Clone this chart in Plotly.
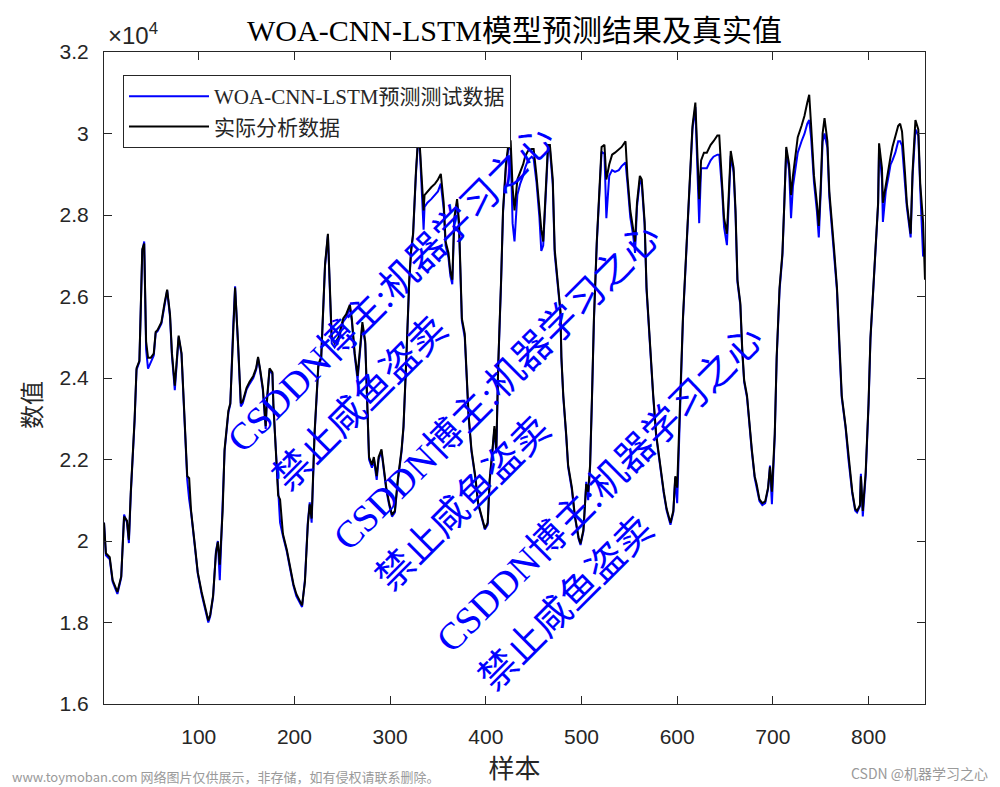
import plotly.graph_objects as go

# ---------------- data ----------------
sample_idx = [
    1, 3, 7, 10, 15, 19, 22, 25, 27, 29,
    33, 35, 38, 41, 43, 45, 47, 50, 53, 55,
    57, 61, 64, 67, 70, 72, 75, 77, 79, 82,
    85, 88, 90, 92, 96, 99, 103, 106, 110, 112,
    115, 118, 120, 122, 125, 127, 131, 133, 136, 138,
    141, 144, 146, 150, 153, 157, 160, 162, 164, 167,
    170, 171, 174, 177, 178, 181, 183, 185, 188, 192,
    195, 199, 202, 205, 208, 211, 214, 216, 218, 221,
    225, 228, 230, 232, 235, 237, 239, 242, 246, 249,
    251, 254, 258, 260, 263, 266, 268, 271, 274, 276,
    278, 281, 283, 286, 288, 291, 294, 296, 299, 302,
    305, 308, 312, 314, 317, 320, 322, 324, 327, 329,
    331, 333, 335, 336, 339, 343, 347, 350, 353, 356,
    358, 361, 363, 365, 367, 370, 372, 375, 378, 380,
    382, 385, 389, 392, 396, 399, 402, 404, 407, 409,
    411, 413, 416, 418, 421, 424, 426, 428, 430, 433,
    436, 439, 441, 444, 448, 450, 453, 456, 458, 460,
    463, 465, 467, 470, 472, 475, 478, 479, 481, 484,
    486, 490, 493, 497, 499, 502, 505, 507, 509, 511,
    513, 516, 519, 521, 524, 526, 529, 532, 535, 539,
    542, 546, 548, 551, 554, 556, 558, 561, 563, 566,
    568, 570, 572, 575, 578, 582, 586, 589, 593, 596,
    598, 600, 603, 606, 610, 613, 616, 619, 621, 623,
    625, 628, 631, 635, 638, 642, 644, 647, 649, 652,
    654, 656, 659, 661, 663, 666, 668, 670, 673, 675,
    678, 681, 683, 686, 689, 692, 695, 697, 699, 702,
    704, 707, 710, 712, 714, 717, 719, 721, 724, 726,
    730, 733, 736, 738, 740, 743, 746, 748, 750, 752,
    754, 757, 759, 762, 764, 767, 770, 772, 776, 779,
    783, 786, 788, 791, 792, 794, 797, 800, 802, 805,
    807, 810, 811, 814, 815, 818, 821, 823, 825, 828,
    831, 833, 835, 838, 840, 844, 846, 849, 852, 854,
    857, 859,
]

actual_vals = [
    20450, 19700, 19600, 19040, 18750, 19130, 20600, 20500, 20030, 21200,
    23000, 24240, 24420, 27160, 27300, 24900, 24500, 24500, 24600, 25130,
    25180, 25370, 25800, 26170, 25560, 24610, 23810, 24520, 25040, 24610,
    23100, 21590, 21540, 20740, 19890, 19230, 18750, 18470, 18050, 18190,
    18660, 19700, 19980, 19420, 20740, 22250, 23200, 23380, 25280, 26220,
    24900, 23380, 23430, 23760, 23900, 24050, 24240, 24520, 24240, 23760,
    22820, 23380, 24240, 24140, 23380, 22160, 21120, 21020, 20170, 19790,
    19420, 18940, 18700, 18560, 18420, 19000, 20400, 20900, 20550, 22630,
    24330, 24520, 25650, 26790, 27540, 26220, 24990, 24850, 24990, 25280,
    25460, 25560, 25800, 25460, 24610, 24050, 24520, 25370, 24900, 23570,
    22060, 21870, 22060, 21590, 22060, 22250, 21680, 21310, 20930, 20640,
    20740, 21500, 22250, 22820, 24520, 26410, 27160, 27540, 29060, 29810,
    29720, 28960, 28110, 28490, 28580, 28680, 28770, 28870, 29010, 28300,
    27350, 27070, 26600, 26410, 27920, 28390, 27830, 25460, 25090, 24050,
    23100, 22250, 21590, 20930, 20550, 20310, 20450, 21500, 22250, 22820,
    22250, 24330, 26410, 28110, 29240, 29810, 29810, 28680, 28110, 28870,
    29060, 29240, 29430, 29570, 29620, 29620, 28960, 28110, 27640, 27350,
    28770, 29720, 29720, 28870, 27160, 26410, 25650, 24520, 23570, 22630,
    21870, 21310, 20640, 20080, 19940, 20270, 21400, 21210, 21870, 23570,
    25460, 27350, 28870, 29670, 29720, 28870, 29240, 29480, 29530, 29620,
    29670, 29810, 28960, 28110, 27640, 27350, 28300, 28960, 28870, 27830,
    26220, 25460, 24520, 23570, 22630, 21870, 21210, 20790, 20450, 20740,
    21590, 21310, 23570, 25460, 27350, 28960, 30190, 30760, 29620, 28390,
    29340, 29530, 29530, 29720, 29810, 29950, 29950, 28770, 27920, 27540,
    28490, 29570, 29150, 28110, 26410, 25840, 24710, 23950, 23570, 23000,
    22250, 21590, 21400, 21020, 20930, 20970, 21310, 21820, 21210, 22630,
    24520, 26220, 27070, 28300, 29670, 29240, 28490, 28960, 29620, 29910,
    30190, 30430, 30760, 30950, 30190, 28960, 28300, 27730, 28680, 30000,
    30380, 29810, 28580, 27830, 27160, 26220, 24520, 23570, 22820, 22060,
    21210, 20790, 20740, 20880, 21590, 20740, 21680, 23380, 24990, 26220,
    27070, 28300, 29760, 29150, 28300, 28770, 29240, 29430, 29670, 29910,
    30190, 30240, 30050, 29060, 28300, 27540, 29060, 30330, 30100, 28770,
    27830, 26410,
]

pred_vals = [
    20450, 19650, 19550, 19000, 18700, 19100, 20650, 20450, 19950, 21150,
    22950, 24200, 24400, 27100, 27350, 24700, 24230, 24400, 24550, 25100,
    25150, 25330, 25780, 26150, 25500, 24550, 23700, 24480, 25000, 24580,
    23050, 21500, 21020, 20700, 19850, 19200, 18700, 18430, 18000, 18150,
    18620, 19750, 20000, 19040, 20700, 22200, 23150, 23350, 25250, 26250,
    24850, 23300, 23380, 23720, 23850, 24000, 24200, 24480, 24200, 23700,
    22750, 23330, 24200, 24100, 23300, 22100, 21050, 20450, 20120, 19750,
    19380, 18900, 18650, 18520, 18380, 19050, 20450, 20950, 20450, 22580,
    24280, 24480, 25600, 26750, 27500, 26150, 24850, 24750, 24900, 25200,
    25380, 25480, 25720, 25400, 24550, 23950, 24450, 25300, 24850, 23500,
    22000, 21800, 22000, 21500, 22000, 22200, 21600, 21250, 20880, 20600,
    20700, 21450, 22200, 22780, 24480, 26350, 27100, 27500, 29000, 29750,
    29650, 28800, 27640, 28200, 28300, 28390, 28490, 28580, 28770, 28150,
    27250, 26950, 26500, 26300, 27800, 28300, 27700, 25400, 25000, 24000,
    23050, 22200, 21550, 20900, 20500, 20280, 20400, 21450, 22200, 22750,
    22150, 24280, 26350, 28050, 29150, 29700, 29600, 27800, 27350, 28500,
    28770, 28960, 29150, 29340, 29430, 29380, 28800, 27950, 27120, 27250,
    28650, 29600, 29620, 28750, 27050, 26350, 25600, 24480, 23520, 22580,
    21820, 21250, 20600, 20050, 19900, 20230, 21450, 21000, 21820, 23500,
    25400, 27300, 28800, 29550, 29500, 27920, 28960, 29100, 29060, 29100,
    29200, 29290, 28800, 27950, 27500, 27070, 28200, 28850, 28750, 27750,
    26150, 25400, 24480, 23520, 22580, 21820, 21170, 20750, 20400, 20700,
    21550, 20930, 23500, 25400, 27300, 28900, 30100, 30650, 29400, 27800,
    29150, 29150, 29150, 29340, 29430, 29480, 29480, 28600, 27700, 27260,
    28350, 29450, 29050, 28000, 26350, 25780, 24650, 23900, 23520, 22950,
    22200, 21550, 21350, 20980, 20880, 20930, 21280, 21850, 20900, 22580,
    24480, 26150, 27000, 28250, 29600, 29100, 27920, 28700, 29240, 29530,
    29810, 29990, 30240, 30330, 29900, 28800, 28100, 27450, 28550, 29800,
    30000, 29650, 28450, 27640, 27100, 26150, 24480, 23520, 22780, 22000,
    21170, 20750, 20700, 20850, 21650, 20600, 21600, 23330, 24950, 26150,
    27000, 28250, 29650, 28900, 27830, 28580, 28960, 29240, 29340, 29530,
    29810, 29810, 29700, 28900, 28200, 27450, 28950, 30100, 29950, 28650,
    26980, 27160,
]

series_names = ["WOA-CNN-LSTM预测测试数据", "实际分析数据"]
x_ticks = [100, 200, 300, 400, 500, 600, 700, 800]
y_ticks = [16000, 18000, 20000, 22000, 24000, 26000, 28000, 30000, 32000]
y_tick_text = ["1.6", "1.8", "2", "2.2", "2.4", "2.6", "2.8", "3", "3.2"]

title_text = "WOA-CNN-LSTM模型预测结果及真实值"
x_title = "样本"
y_title = "数值"
wm_line1 = "CSDDN博主:机器学习之心"
wm_line2 = "禁止咸鱼盗卖"
footer_left = "www.toymoban.com 网络图片仅供展示，非存储，如有侵权请联系删除。"
footer_right = "CSDN @机器学习之心"

# ---------------- figure ----------------
# the page body has an 8px margin, so the figure is drawn 8px smaller and
# every reference pixel position is shifted by -8
OFF = 8
W, H = 1000 - OFF, 787 - OFF
ax_left, ax_right, ax_top, ax_bottom = 104, 925, 52, 704   # reference pixels
L = ax_left - OFF
T = ax_top - OFF
R = W - (ax_right - OFF)
B = H - (ax_bottom - OFF)
pw, ph = ax_right - ax_left, ax_bottom - ax_top

def px2paper(x, y):
    return (x - ax_left) / pw, (ax_bottom - y) / ph

SERIF = "'Liberation Serif', 'Times New Roman', 'Noto Sans CJK SC', serif"
SANS = "'Liberation Sans', Arial, 'Noto Sans CJK SC', sans-serif"
CJK = "'Noto Sans CJK SC', sans-serif"
AX = "#262626"

fig = go.Figure()
fig.add_trace(go.Scatter(x=sample_idx, y=pred_vals, mode="lines", name=series_names[0],
                         line=dict(color="#0000ff", width=2)))
fig.add_trace(go.Scatter(x=sample_idx, y=actual_vals, mode="lines", name=series_names[1],
                         line=dict(color="#000000", width=2)))

annotations = []
annotations.append(dict(xref="paper", yref="paper", x=0, y=1, xanchor="left", yanchor="bottom",
                        xshift=2, yshift=1, text="×10<sup>4</sup>", showarrow=False,
                        font=dict(family=SANS, size=24, color=AX)))
wm_centers = [((390, 289), (360, 403)), ((496, 387), (463, 503)), ((599, 489), (566, 603))]
for (c1, c2) in wm_centers:
    for (cx, cy), txt in ((c1, wm_line1), (c2, wm_line2)):
        xp, yp = px2paper(cx, cy)
        annotations.append(dict(xref="paper", yref="paper", x=xp, y=yp, xanchor="center",
                                yanchor="middle", text=txt, showarrow=False, textangle=-45,
                                font=dict(family=SERIF, size=38, color="#0000ff")))
# y-axis title (sits a little below the axis middle in the reference)
xp, yp = px2paper(30, 405)
annotations.append(dict(xref="paper", yref="paper", x=xp, y=yp, xanchor="center", yanchor="middle",
                        text=y_title, showarrow=False, textangle=-90,
                        font=dict(family=CJK, size=24, color=AX)))
xp, yp = px2paper(10, 777)
annotations.append(dict(xref="paper", yref="paper", x=xp, y=yp, xanchor="left", yanchor="middle",
                        text=footer_left, showarrow=False,
                        font=dict(family=CJK, size=13, color="#9a9a9a")))
xp, yp = px2paper(990, 773)
annotations.append(dict(xref="paper", yref="paper", x=xp, y=yp, xanchor="right", yanchor="middle",
                        text=footer_right, showarrow=False,
                        font=dict(family=CJK, size=14, color="#9a9a9a")))

lx, ly = px2paper(123, 75)
fig.update_layout(
    width=W, height=H, autosize=False,
    margin=dict(l=L, r=R, t=T, b=B, pad=0),
    paper_bgcolor="white", plot_bgcolor="white",
    title=dict(text=title_text, x=(L + pw / 2) / W, xanchor="center", xref="container",
               y=1 - (30 - OFF) / H, yanchor="middle", yref="container",
               font=dict(family=SERIF, size=30, color="#000000")),
    showlegend=True,
    legend=dict(x=lx, y=ly, xanchor="left", yanchor="top", bgcolor="white",
                bordercolor=AX, borderwidth=1, itemwidth=80,
                entrywidthmode="pixels", entrywidth=325,
                font=dict(family=SERIF, size=21, color=AX), tracegroupgap=0),
    annotations=annotations,
)
fig.update_xaxes(range=[1, 859], tickvals=x_ticks, ticks="inside", ticklen=8, tickcolor=AX,
                 showline=True, linecolor=AX, linewidth=1, mirror="ticks", showgrid=False,
                 zeroline=False, ticklabelstandoff=14, tickfont=dict(family=SANS, size=21, color=AX),
                 title=dict(text=x_title, standoff=6, font=dict(family=CJK, size=26, color=AX)))
fig.update_yaxes(range=[16000, 32000], tickvals=y_ticks, ticktext=y_tick_text, ticks="inside",
                 ticklen=8, tickcolor=AX, showline=True, linecolor=AX, linewidth=1,
                 mirror="ticks", showgrid=False, zeroline=False, ticklabelstandoff=10,
                 tickfont=dict(family=SANS, size=21, color=AX))

fig.write_html("out.html")
